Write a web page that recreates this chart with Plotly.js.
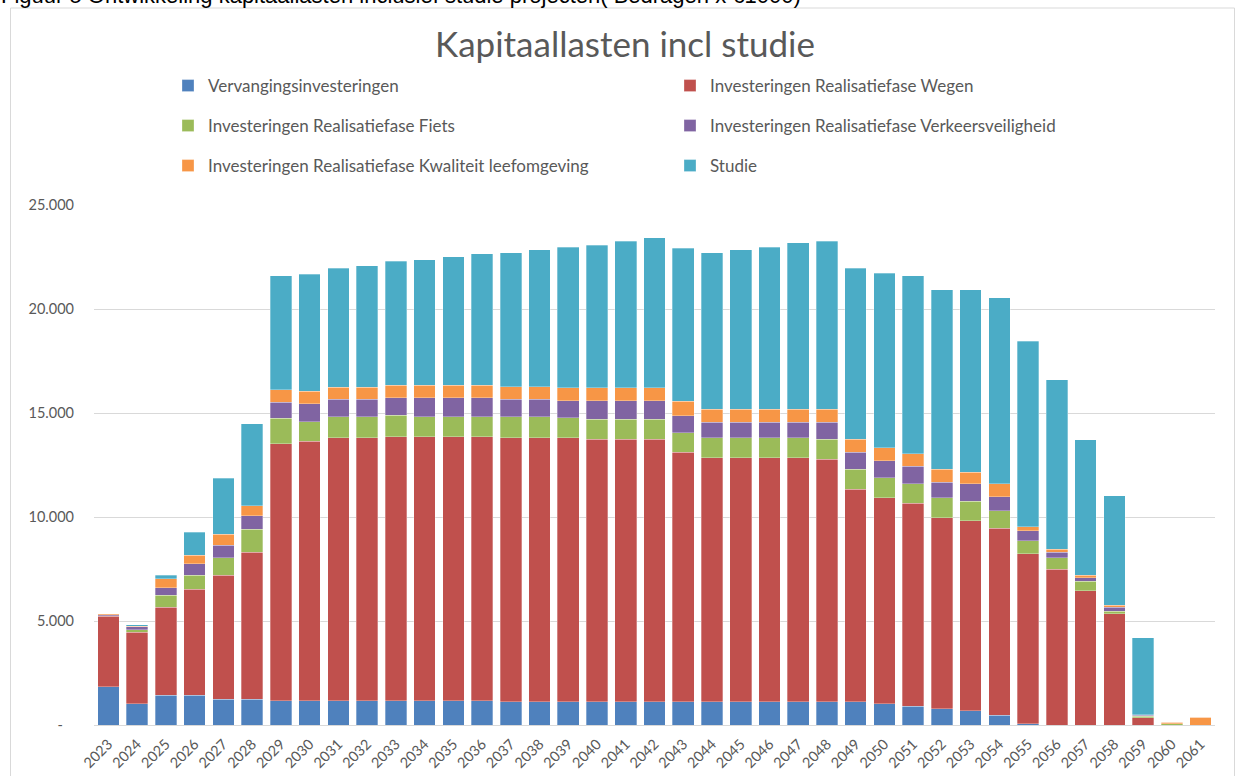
<!DOCTYPE html>
<html>
<head>
<meta charset="utf-8">
<script src="https://cdn.plot.ly/plotly-3.0.1.min.js"></script>
<style>
  html, body { margin: 0; padding: 0; background: #ffffff; overflow: hidden; }
  #chart { width: 1236px; height: 776px; }
</style>
</head>
<body>
<div id="chart"></div>
<script>
const years = ['2023','2024','2025','2026','2027','2028','2029','2030','2031','2032','2033','2034','2035','2036','2037','2038','2039','2040','2041','2042','2043','2044','2045','2046','2047','2048','2049','2050','2051','2052','2053','2054','2055','2056','2057','2058','2059','2060','2061'];

const vervanging = [1850,1030,1440,1440,1250,1250,1160,1160,1160,1160,1160,1160,1160,1160,1110,1110,1110,1110,1110,1110,1110,1110,1110,1110,1110,1110,1110,1030,910,770,680,480,70,0,0,0,0,0,0];
const wegen = [3390,3420,4210,5080,5960,7050,12370,12490,12640,12640,12710,12710,12710,12710,12690,12690,12690,12620,12620,12620,12010,11730,11730,11730,11730,11660,10230,9890,9740,9200,9130,8990,8170,7480,6460,5360,360,0,0];
const fiets = [20,140,600,670,820,1100,1210,940,1010,1010,1030,960,960,960,1030,1030,980,960,960,960,940,960,960,960,960,960,950,960,960,950,940,820,610,570,440,120,60,70,0];
const verkeersveiligheid = [40,130,340,570,620,670,770,860,840,840,840,910,910,910,840,840,800,890,890,890,820,750,750,750,750,820,830,830,820,760,860,690,480,250,170,170,50,0,0];
const kwaliteit = [60,30,430,390,530,480,620,590,600,600,600,600,600,600,600,600,640,640,640,640,690,620,620,620,620,620,610,630,620,610,550,610,210,140,120,100,20,60,380];
const studie = [0,60,190,1110,2690,3940,5480,5640,5720,5840,5950,6040,6180,6310,6440,6590,6760,6850,7030,7200,7360,7540,7670,7810,8010,8080,8220,8390,8560,8630,8760,8940,8900,8170,6530,5280,3700,0,0];

const seriesNames = ['Vervangingsinvesteringen','Investeringen Realisatiefase Wegen','Investeringen Realisatiefase Fiets','Investeringen Realisatiefase Verkeersveiligheid','Investeringen Realisatiefase Kwaliteit leefomgeving','Studie'];
const seriesValues = [vervanging, wegen, fiets, verkeersveiligheid, kwaliteit, studie];
const seriesColors = ['#4F81BD','#C0504D','#9BBB59','#8064A2','#F79646','#4BACC6'];
const legendIds = ['legend','legend','legend2','legend2','legend3','legend3'];

const yTickVals = [0,5000,10000,15000,20000,25000];
const yTickText = ['-\u00a0\u00a0\u00a0','5.000','10.000','15.000','20.000','25.000'];

const caption = 'Figuur 5 Ontwikkeling kapitaallasten inclusief studie projecten( Bedragen x €1000)';
const chartTitle = 'Kapitaallasten incl studie';

const txt = '#595959';
const fam = 'Lato, "Open Sans", sans-serif';

const traces = seriesNames.map((name, i) => ({
  type: 'bar',
  name: name,
  x: years,
  y: seriesValues[i],
  legend: legendIds[i],
  marker: { color: seriesColors[i], line: { color: 'rgba(255,255,255,0.6)', width: 0.5 } },
  hoverinfo: 'x+y+name'
}));

const L = 94, R = 21, T = 205, B = 51;
const W = 1236, H = 776;
const pw = W - L - R, ph = H - T - B;
const px2x = (px) => (px - L) / pw;
const py2y = (py) => (H - B - py) / ph;

function legendAt(py) {
  return {
    orientation: 'h',
    x: px2x(168), xanchor: 'left',
    y: py2y(py), yanchor: 'middle',
    entrywidth: 457, entrywidthmode: 'pixels',
    font: { family: fam, size: 17, color: txt },
    bgcolor: 'rgba(0,0,0,0)',
    traceorder: 'normal'
  };
}

const layout = {
  width: W, height: H,
  margin: { l: L, r: R, t: T, b: B, pad: 0 },
  paper_bgcolor: '#ffffff',
  plot_bgcolor: '#ffffff',
  barmode: 'stack',
  bargap: 0.25,
  font: { family: fam, color: txt },
  title: {
    text: chartTitle,
    font: { family: fam, size: 35, color: txt },
    xref: 'container', x: 625 / W, xanchor: 'center',
    yref: 'container', y: 1 - 45 / H, yanchor: 'middle'
  },
  legend: legendAt(86),
  legend2: legendAt(126),
  legend3: legendAt(166),
  xaxis: {
    type: 'category',
    tickangle: -45,
    tickfont: { family: fam, size: 14.5, color: txt },
    showline: true, linecolor: '#d9d9d9', linewidth: 1,
    ticks: '', showgrid: false, zeroline: false,
    ticklabelstandoff: 4
  },
  yaxis: {
    range: [0, 25000],
    tickvals: yTickVals,
    ticktext: yTickText,
    tickfont: { family: fam, size: 14.5, color: txt },
    showgrid: true, gridcolor: '#d9d9d9', gridwidth: 1,
    zeroline: false, showline: false, ticks: '',
    ticklabelstandoff: 19
  },
  shapes: [{
    type: 'rect', xref: 'paper', yref: 'paper',
    x0: px2x(10.5), x1: px2x(1234.5), y0: py2y(830), y1: py2y(8),
    line: { color: '#d9d9d9', width: 1 }, fillcolor: 'rgba(0,0,0,0)', layer: 'below'
  }],
  annotations: [{
    text: caption,
    xref: 'paper', yref: 'paper',
    x: px2x(-1), xanchor: 'left',
    y: py2y(10), yanchor: 'bottom',
    showarrow: false,
    font: { family: '"Liberation Sans", Arial, sans-serif', size: 22, color: '#000000' }
  }],
  showlegend: true
};

Plotly.newPlot('chart', traces, layout, { displayModeBar: false, responsive: false });
</script>
</body>
</html>
